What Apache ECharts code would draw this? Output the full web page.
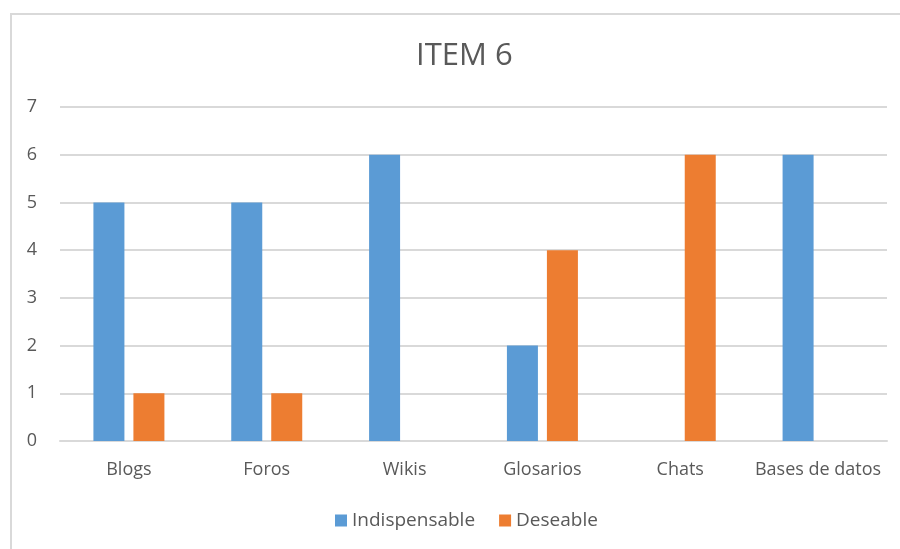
<!DOCTYPE html>
<html>
<head>
<meta charset="utf-8">
<script src="https://cdn.jsdelivr.net/npm/echarts@6/dist/echarts.min.js"></script>
<style>
  html, body { margin: 0; padding: 0; background: #fff; }
  #chart { width: 900px; height: 549px; }
</style>
</head>
<body>
<div id="chart"></div>
<script>
// Survey results for item 6: how each tool was rated
const categories = ['Blogs', 'Foros', 'Wikis', 'Glosarios', 'Chats', 'Bases de datos'];
const indispensable = [5, 5, 6, 2, 0, 6];
const deseable = [1, 1, 0, 4, 6, 0];
const yTicks = [0, 1, 2, 3, 4, 5, 6, 7];

const textColor = '#595959';
const font = 'Open Sans, Liberation Sans, sans-serif';

const chart = echarts.init(document.getElementById('chart'), null, { renderer: 'canvas' });
chart.setOption({
  backgroundColor: '#fff',
  animation: false,
  graphic: [{
    type: 'rect',
    shape: { x: 11, y: 14, width: 900, height: 560 },
    style: { fill: 'none', stroke: '#d9d9d9', lineWidth: 2 },
    silent: true
  }],
  title: {
    text: 'ITEM 6',
    left: 411,
    top: 36,
    textStyle: { color: textColor, fontFamily: font, fontSize: 31, fontWeight: 'normal' }
  },
  legend: {
    bottom: 14,
    left: 330,
    itemWidth: 12,
    itemHeight: 12,
    itemGap: 24,
    icon: 'rect',
    textStyle: { color: textColor, fontFamily: font, fontSize: 19 },
    data: ['Indispensable', 'Deseable']
  },
  grid: { left: 60, right: 13, top: 107, bottom: 108 },
  xAxis: {
    type: 'category',
    data: categories,
    axisTick: { show: false },
    axisLine: { lineStyle: { color: '#d9d9d9', width: 2 } },
    axisLabel: { color: textColor, fontFamily: font, fontSize: 18, margin: 20, interval: 0 }
  },
  yAxis: {
    type: 'value',
    min: yTicks[0],
    max: yTicks[yTicks.length - 1],
    interval: 1,
    axisLine: { show: false },
    axisTick: { show: false },
    splitLine: { lineStyle: { color: '#d9d9d9', width: 2 } },
    axisLabel: { color: textColor, fontFamily: font, fontSize: 18, margin: 23 }
  },
  series: [
    {
      name: 'Indispensable',
      type: 'bar',
      data: indispensable,
      barWidth: 31,
      barGap: '29%',
      itemStyle: { color: '#5b9bd5' }
    },
    {
      name: 'Deseable',
      type: 'bar',
      data: deseable,
      barWidth: 31,
      itemStyle: { color: '#ed7d31' }
    }
  ]
});
</script>
</body>
</html>
